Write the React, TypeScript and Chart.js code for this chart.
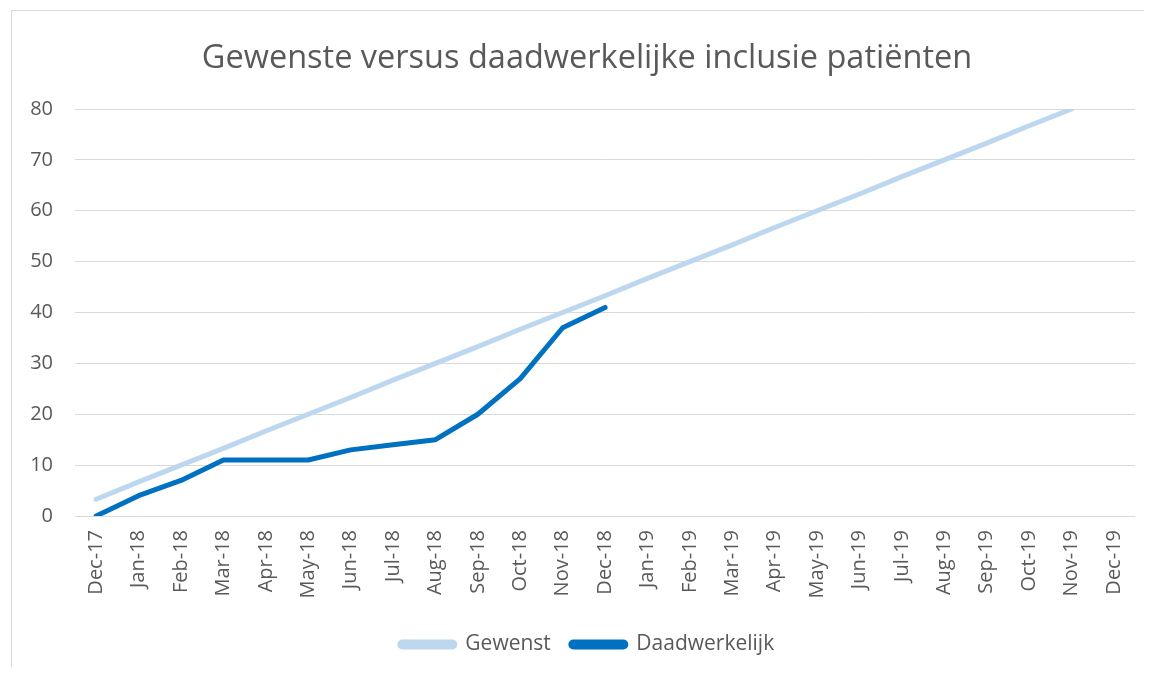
import React, { useEffect, useRef } from "react";
import { Chart, registerables } from "chart.js";

Chart.register(...registerables);

const categories = [
  "Dec-17", "Jan-18", "Feb-18", "Mar-18", "Apr-18", "May-18", "Jun-18", "Jul-18", "Aug-18",
  "Sep-18", "Oct-18", "Nov-18", "Dec-18", "Jan-19", "Feb-19", "Mar-19", "Apr-19", "May-19",
  "Jun-19", "Jul-19", "Aug-19", "Sep-19", "Oct-19", "Nov-19", "Dec-19",
];

const gewenst = [
  3.3, 6.7, 10, 13.3, 16.7, 20, 23.3, 26.7, 30, 33.3, 36.7, 40, 43.3, 46.7, 50, 53.3, 56.7,
  60, 63.3, 66.7, 70, 73.3, 76.7, 80, null,
];

const daadwerkelijk = [0, 4, 7, 11, 11, 11, 13, 14, 15, 20, 27, 37, 41];

const yTicks = [0, 10, 20, 30, 40, 50, 60, 70, 80];

const FONT = "'Open Sans', 'Liberation Sans', sans-serif";
const TEXT = "#595959";

export default function App() {
  const ref = useRef<HTMLCanvasElement | null>(null);

  useEffect(() => {
    document.body.style.overflow = "hidden";
    const chart = new Chart(ref.current!, {
      type: "line",
      data: {
        labels: categories,
        datasets: [
          {
            label: "Gewenst",
            data: gewenst,
            borderColor: "#bdd7ee",
            backgroundColor: "#bdd7ee",
            borderWidth: 5,
            borderCapStyle: "round",
            borderJoinStyle: "round",
            pointRadius: 0,
            tension: 0,
          },
          {
            label: "Daadwerkelijk",
            data: daadwerkelijk,
            borderColor: "#0070c0",
            backgroundColor: "#0070c0",
            borderWidth: 5,
            borderCapStyle: "round",
            borderJoinStyle: "round",
            pointRadius: 0,
            tension: 0,
          },
        ],
      },
      options: {
        animation: false,
        responsive: false,
        maintainAspectRatio: false,
        layout: { padding: { left: 16, right: 2, top: 0, bottom: 2 } },
        plugins: {
          title: {
            display: true,
            text: "Gewenste versus daadwerkelijke inclusie patiënten",
            color: TEXT,
            font: { family: FONT, size: 32.5, weight: "normal" },
            padding: { top: 31, bottom: 31 },
          },
          legend: {
            position: "bottom",
            labels: {
              color: TEXT,
              font: { family: FONT, size: 21 },
              boxWidth: 55,
              boxHeight: 5,
              useBorderRadius: true,
              borderRadius: 2.5,
              padding: 20,
            },
          },
          tooltip: { enabled: false },
        },
        scales: {
          x: {
            offset: true,
            grid: { display: false, drawTicks: false },
            border: { display: false },
            ticks: {
              color: TEXT,
              font: { family: FONT, size: 20 },
              minRotation: 90,
              maxRotation: 90,
              autoSkip: false,
              padding: 14,
            },
            afterFit: (s: any) => {
              s.height = 98;
            },
          },
          y: {
            min: 0,
            max: 80,
            afterBuildTicks: (s: any) => {
              s.ticks = yTicks.map((v) => ({ value: v }));
            },
            grid: { color: "#d9d9d9", lineWidth: 1, drawTicks: false },
            border: { display: false },
            ticks: {
              color: TEXT,
              font: { family: FONT, size: 20 },
              padding: 22,
            },
            afterFit: (s: any) => {
              s.width = 51;
            },
          },
        },
      },
    });
    return () => chart.destroy();
  }, []);

  return (
    <div style={{ position: "relative", width: 1144, height: 659 }}>
      <div
        style={{
          position: "absolute",
          left: 3,
          top: 2,
          right: 0,
          bottom: 0,
          borderLeft: "1px solid #d9d9d9",
          borderTop: "1px solid #d9d9d9",
          pointerEvents: "none",
        }}
      />
      <canvas ref={ref} width={1144} height={659} style={{ display: "block" }} />
    </div>
  );
}
